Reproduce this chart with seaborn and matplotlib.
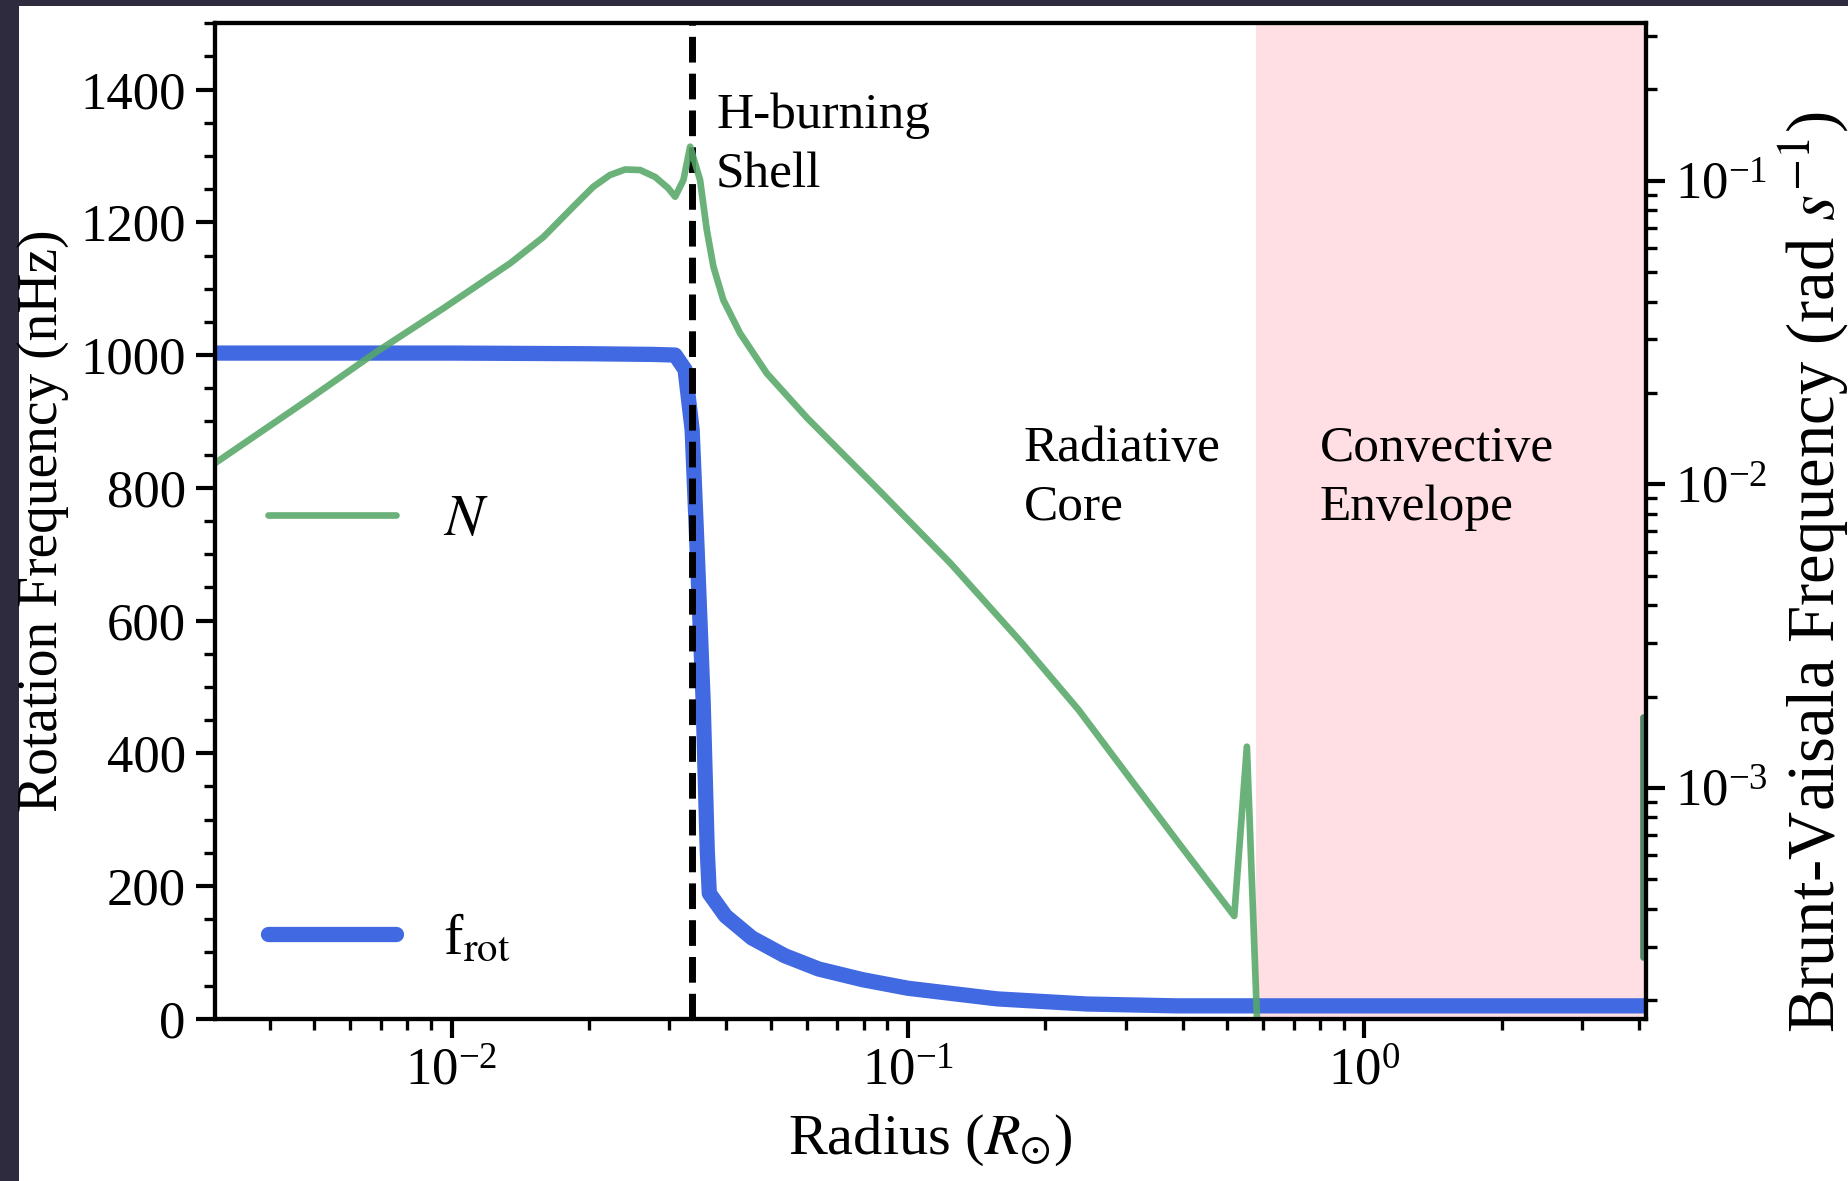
import matplotlib
matplotlib.use("Agg")
import matplotlib.pyplot as plt
from matplotlib.patches import Rectangle
from matplotlib.ticker import MultipleLocator
import pandas as pd
import seaborn as sns

# Rotation profile f_rot(r) in nHz
rot_radius = [0.002951, 0.01, 0.01995, 0.02754, 0.03088, 0.03247, 0.03365, 0.03451,
              0.03556, 0.03631, 0.03669, 0.03981, 0.04545, 0.05370, 0.06371, 0.07943,
              0.1, 0.1568, 0.2461, 0.3864, 0.6310, 1.0, 1.995, 4.467]
rot_freq = [1003, 1003, 1002, 1001, 1000, 978, 887, 706,
            480, 254, 189, 155, 122, 95, 75, 59,
            46, 30, 22.3, 19.5, 19.5, 19.5, 19.5, 19.5]

# Brunt-Vaisala frequency N(r) in rad/s
bv_radius = [0.002881, 0.004895, 0.006854, 0.009590, 0.01343, 0.01589, 0.01879, 0.02044,
             0.02223, 0.02399, 0.02588, 0.02792, 0.02979, 0.03088, 0.03220, 0.03331,
             0.03502, 0.03623, 0.03746, 0.03938, 0.04285, 0.04904, 0.06010, 0.08627,
             0.1237, 0.1770, 0.2366, 0.3083, 0.3948, 0.5185, 0.5527, 0.5812, 0.5879]
bv_freq = [0.011145, 0.01920, 0.02734, 0.03799, 0.05344, 0.06525, 0.08425, 0.09554,
           0.10442, 0.10886, 0.10844, 0.10285, 0.09462, 0.08857, 0.10053, 0.12942,
           0.10053, 0.06880, 0.05208, 0.04047, 0.03144, 0.02320, 0.01654, 0.009577,
           0.005506, 0.003020, 0.001805, 0.001062, 0.0006484, 0.0003786, 0.001367,
           0.0001786, 0.00009376]

# Surface segment of N near the photosphere
surf_radius = [4.07, 4.07]
surf_freq = [0.0002780, 0.001716]

h_shell_radius = 0.0336
envelope_base = 0.58

x_limits = (0.003030, 4.14)
rot_limits = (0, 1500)
bv_limits = (1.736e-4, 0.3302)

sns.set_style("ticks")
plt.rcParams.update({
    "font.family": ["Liberation Serif", "DejaVu Serif"],
    "mathtext.fontset": "stix",
    "axes.edgecolor": "black",
    "xtick.color": "black",
    "ytick.color": "black",
    "text.color": "black",
    "axes.labelcolor": "black",
})

fig = plt.figure(figsize=(9.245, 5.905), dpi=200)
fig.patch.set_facecolor("#2d2b3d")
fig.add_artist(Rectangle((19 / 1849, 0), 1, 1 - 6 / 1181, transform=fig.transFigure,
                         facecolor="white", edgecolor="none", zorder=-10))

ax = fig.add_axes([0.11628, 0.13734, 0.77393, 0.84302])
ax.set_xscale("log")
ax.set_xlim(*x_limits)
ax.set_ylim(*rot_limits)

ax.axvspan(envelope_base, 10, color="pink", alpha=0.5, lw=0, zorder=0)

rot_df = pd.DataFrame({"radius": rot_radius, "f_rot": rot_freq})
sns.lineplot(data=rot_df, x="radius", y="f_rot", ax=ax, color="royalblue",
             lw=5.5, estimator=None, sort=False)
rot_line = ax.lines[-1]
ax.axvline(h_shell_radius, color="black", ls="--", lw=2.5)

ax2 = ax.twinx()
ax2.set_yscale("log")
ax2.set_ylim(*bv_limits)
bv_df = pd.DataFrame({"radius": bv_radius, "N": bv_freq})
sns.lineplot(data=bv_df, x="radius", y="N", ax=ax2, color="#55A868", alpha=0.88,
             lw=2.4, estimator=None, sort=False)
bv_line = ax2.lines[-1]
surf_df = pd.DataFrame({"radius": surf_radius, "N": surf_freq})
sns.lineplot(data=surf_df, x="radius", y="N", ax=ax2, color="#3f7a58", alpha=0.9,
             lw=2.4, estimator=None, sort=False)
ax2.set_xlim(*x_limits)

ax.yaxis.set_minor_locator(MultipleLocator(50))
for a in (ax, ax2):
    a.tick_params(which="major", direction="out", length=7, width=1.5, labelsize=19)
    a.tick_params(which="minor", direction="out", length=4, width=1.2)
    for sp in a.spines.values():
        sp.set_linewidth(1.5)
        sp.set_color("black")

ax.set_xlabel(r"Radius ($R_{\odot}$)", fontsize=21, labelpad=6)
ax.set_ylabel("Rotation Frequency (nHz)", fontsize=20)
ax2.set_ylabel(r"Brunt-Vaisala Frequency (rad $s^{-1}$)", fontsize=24)
ax2.yaxis.set_label_coords(1834 / 1849, 1 - 572 / 1181, transform=fig.transFigure)
ax2.yaxis.label.set_verticalalignment("baseline")
ax2.yaxis.label.set_horizontalalignment("center")

txt = dict(fontsize=18.5, ha="left", va="center", linespacing=1.35)
ax.text(0.03797, 1316, "H-burning\nShell", **txt)
ax.text(0.1792, 815, "Radiative\nCore", **txt)
ax.text(0.798, 815, "Convective\nEnvelope", **txt)

ax.legend(handles=[rot_line], labels=[r"f$_{\rm rot}$"], loc="lower left",
          frameon=False, fontsize=21, handlelength=2.2)
ax2.legend(handles=[bv_line], labels=[r"$N$"], loc="center left",
           frameon=False, fontsize=21, handlelength=2.2)

fig.savefig("out.png", dpi=200, facecolor=fig.get_facecolor())
